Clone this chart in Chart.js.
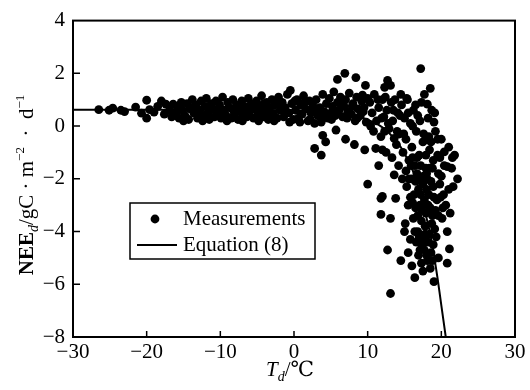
<!DOCTYPE html>
<html>
<head>
<meta charset="utf-8">
<script src="https://cdn.jsdelivr.net/npm/chart.js@4.4.0/dist/chart.umd.min.js"></script>
<style>
  html, body { margin: 0; padding: 0; background: #fff; }
</style>
</head>
<body>
<canvas id="neeChart" width="530" height="390"></canvas>
<script>
const xTicks = [-30, -20, -10, 0, 10, 20, 30];
const yTicks = [4, 2, 0, -2, -4, -6, -8];

const measTemp = [
  -26.5, -25.1, -24.6, -23.5, -23.0, -21.5, -20.7, -20.0, -20.0, -19.6,
  -19.0, -18.5, -18.0, -17.4, -17.6, -16.9, -16.4, -16.6, -16.2, -15.9,
  -15.6, -15.3, -15.1, -14.8, -14.5, -14.3, -14.1, -13.8, -13.6, -13.3,
  -13.1, -12.8, -12.6, -12.3, -12.1, -11.9, -11.7, -11.5, -11.2, -11.0,
  -10.8, -10.6, -10.3, -10.1, -9.9, -9.7, -9.5, -9.2, -9.0, -8.8,
  -8.5, -8.3, -8.1, -7.8, -7.6, -7.4, -7.1, -6.9, -6.7, -6.4,
  -6.2, -6.0, -5.8, -5.5, -5.3, -5.1, -4.9, -4.6, -4.4, -4.2,
  -4.0, -3.7, -3.5, -3.3, -3.0, -2.8, -2.6, -2.3, -2.1, -1.9,
  -1.6, -1.4, -1.2, -0.9, -0.7, -0.5, -0.3, -0.1, 0.2, 0.4,
  0.6, 0.9, 1.1, 1.3, 1.6, 1.9, 2.1, 2.3, 2.6, 2.8,
  3.0, 3.2, 3.5, 3.7, 3.9, 4.1, 4.4, 4.6, 4.8, 5.0,
  5.2, 5.4, 5.6, 5.9, 6.1, 6.3, 6.6, 6.8, 7.0, 7.3,
  7.5, 7.8, 8.0, 8.3, 8.5, 8.7, 9.0, 9.2, 9.5, 9.8,
  -15.8, -15.0, -14.0, -13.2, -12.4, -11.6, -10.7, -9.8, -9.1, -8.4,
  -7.7, -7.0, -6.3, -5.6, -4.8, -4.1, -3.4, -2.7, -2.0, -1.3,
  -0.6, 0.1, 0.8, 1.5, 2.2, 2.9, 3.6, 4.3, 5.1, 5.8,
  6.5, 7.2, 7.9, 8.6, 9.4,
  10.0, 2.8, 3.7, 3.9, 4.3, 5.7, 7.0, 8.2, 9.6, 11.1,
  10.4, 12.3, 13.6, 5.9, 6.9, 8.4, 9.7, 9.3, 12.7, 13.1,
  17.2, 18.5, 18.1, 19.0, 19.5, 20.4, 21.8, 14.5, 12.3, 15.3,
  10.3, 10.6, 10.9, 11.2, 11.5, 11.8, 12.0, 12.2, 12.6, 12.9,
  13.2, 13.4, 13.7, 13.9, 14.1, 14.3, 14.6, 14.8, 15.0, 15.2,
  15.4, 15.6, 15.8, 16.0, 16.2, 16.4, 16.6, 16.8, 17.0, 17.3,
  17.5, 17.7, 17.9, 18.2, 18.4, 18.7, 18.9, 19.2, 14.2, 14.7,
  10.8, 11.4, 11.9, 12.4, 12.8, 13.5, 14.0, 14.4, 14.9, 15.5,
  16.1, 16.5, 17.1, 17.6, 18.3, 19.1,
  15.2, 13.3, 12.5, 11.5, 12.0, 16.0, 16.3, 16.5, 16.7, 16.9,
  17.1, 17.3, 17.5, 17.7, 17.9, 18.1, 18.3, 18.5, 18.7, 18.9,
  19.1, 17.0, 17.4, 17.8, 18.2, 18.6, 16.6, 16.2, 15.8, 15.5,
  15.3, 15.9, 17.2, 18.0, 18.8, 19.4, 19.6, 19.8, 20.0, 20.3,
  20.6, 21.0, 21.4, 20.8, 22.2, 21.2, 20.1, 20.8, 21.1, 20.8,
  19.0, 16.4, 14.5, 12.7, 13.1, 11.8, 13.8, 11.8, 13.1, 15.1,
  15.0, 10.0, 13.6, 12.0, 16.9, 17.3, 17.7, 18.1, 18.5, 18.9,
  17.5, 16.0, 15.5, 15.8, 19.3, 19.6, 21.5, 21.0, 20.0, 19.8,
  20.4, 21.6,
  16.1, 16.5, 16.8, 17.0, 17.2, 17.4, 17.6, 17.8, 18.0, 18.2,
  18.4, 18.6, 18.8, 19.0, 19.2, 17.1, 17.6, 18.0, 18.4, 18.8,
  16.8, 16.4, 16.1, 15.6, 19.6, 19.9, 20.2, 16.7, 17.9, 18.6,
  19.5
];
const measNee = [
  0.62, 0.6, 0.68, 0.6, 0.55, 0.72, 0.49, 0.98, 0.3, 0.62,
  0.53, 0.75, 0.95, 0.83, 0.45, 0.6, 0.83, 0.35, 0.45, 0.75,
  0.3, 0.9, 0.6, 0.4, 0.85, 0.25, 0.65, 1.0, 0.5, 0.8,
  0.3, 0.6, 0.95, 0.4, 0.75, 1.05, 0.5, 0.25, 0.85, 0.65,
  0.35, 0.95, 0.55, 0.8, 0.3, 1.1, 0.6, 0.4, 0.9, 0.7,
  0.3, 1.0, 0.5, 0.8, 0.25, 0.65, 0.95, 0.45, 0.75, 0.35,
  1.05, 0.55, 0.85, 0.3, 0.65, 0.95, 0.45, 0.75, 1.15, 0.35,
  0.6, 0.9, 0.25, 0.7, 1.0, 0.45, 0.8, 0.3, 1.1, 0.6,
  0.9, 0.35, 0.7, 1.2, 0.5, 1.35, 0.85, 0.25, 0.6, 1.0,
  0.3, 0.8, 0.45, 1.15, 0.65, 0.2, 0.95, 0.5, 0.75, 0.1,
  1.0, 0.4, 0.7, 0.15, 1.2, 0.55, 0.85, 0.3, 1.05, 0.5,
  0.75, 1.3, 0.4, 0.9, 0.6, 1.1, 0.35, 0.75, 1.0, 0.55,
  1.25, 0.45, 0.85, 0.2, 1.1, 0.65, 0.4, 0.95, 0.7, 0.15,
  0.6, 0.2, 0.7, 0.55, 0.2, 0.75, 0.6, 0.5, 0.2, 0.65,
  0.55, 0.2, 0.6, 0.8, 0.2, 0.85, 0.5, 0.2, 0.85, 0.55,
  0.15, 0.95, 0.15, 0.95, 0.25, 0.6, 0.35, 0.45, 0.25, 0.55,
  0.8, 0.3, 0.75, 0.3, 0.55,
  1.05, -0.85, -1.1, -0.35, -0.6, -0.15, -0.5, -0.7, -0.9, -0.85,
  0.0, -0.2, -0.47, 1.77, 2.0, 1.84, 1.54, 1.17, 1.73, 1.54,
  2.18, 1.43, 0.83, 0.15, -0.5, -0.98, -1.1, 1.2, 1.47, 1.05,
  0.9, 0.5, 1.2, 0.2, 0.7, -0.4, 1.0, 0.35, 0.6, -0.1,
  0.9, 0.2, 1.0, -0.7, 0.5, -0.3, 0.8, -1.0, 0.3, -0.5,
  1.0, -1.3, 0.1, -0.8, 0.6, -1.5, -0.2, 0.4, -1.1, 0.9,
  -0.6, 1.2, -1.6, 0.3, -0.9, 0.6, -1.3, -0.2, -1.5, -2.0,
  -0.2, 1.0, 0.3, 1.1, 0.1, 0.6, -0.2, 0.4, -0.3, 0.5,
  0.0, 0.8, 0.2, -0.3, -0.4, 0.5,
  -1.7, -1.2, -1.0, -1.5, -0.9, -2.0, -2.6, -3.1, -1.8, -2.4,
  -3.0, -3.6, -2.2, -2.8, -3.3, -2.0, -2.6, -3.1, -3.7, -2.3,
  -3.9, -4.2, -4.5, -4.1, -4.4, -4.8, -4.4, -3.5, -2.7, -3.0,
  -2.3, -1.5, -1.5, -1.8, -1.6, -2.8, -3.4, -2.2, -1.9, -2.6,
  -3.0, -2.4, -1.6, -1.54, -2.0, -3.3, -3.5, -4.0, -4.66, -5.2,
  -5.9, -5.75, -5.1, -4.7, -6.35, -2.74, -2.74, -3.35, -3.5, -3.7,
  -4.0, -2.2, -1.85, -2.67, -4.9, -5.2, -4.7, -5.1, -5.4, -4.5,
  -5.5, -5.3, -4.8, -4.3, -4.2, -5.0, -1.2, -0.8, -0.5, -1.2,
  -1.5, -2.3,
  -1.2, -2.1, -3.4, -2.0, -2.6, -3.2, -1.9, -3.8, -2.4, -3.0,
  -1.6, -2.1, -3.4, -2.7, -3.2, -4.7, -4.3, -4.9, -4.1, -5.1,
  -4.0, -4.0, -2.9, -2.0, -1.8, -2.7, -3.1, -1.2, -1.1, -0.6,
  -1.1
];

// Equation (8) curve
const eqTemp = [-30, -20, -10, -5, 0, 3, 6, 9, 11, 12, 13, 14, 15, 16, 17, 18, 18.5, 19, 19.5, 20, 20.6];
const eqNee = [0.62, 0.62, 0.62, 0.61, 0.6, 0.57, 0.51, 0.35, 0.12, -0.05, -0.29, -0.6, -1.04, -1.6, -2.4, -3.5, -4.1, -4.9, -5.8, -6.8, -8.0];

const serif = '"Liberation Serif", "DejaVu Serif", serif';
const minus = v => String(v).replace('-', '\u2212');

function drawRich(ctx, parts, x, y) {
  let total = 0;
  parts.forEach(p => { ctx.font = p[1]; total += ctx.measureText(p[0]).width; });
  let cx = x - total / 2;
  parts.forEach(p => {
    ctx.font = p[1];
    ctx.fillText(p[0], cx, y + p[2]);
    cx += ctx.measureText(p[0]).width;
  });
}

const overlay = {
  id: 'overlay',
  afterDraw(chart) {
    const ctx = chart.ctx;
    const a = chart.chartArea;
    const xs = chart.scales.x, ys = chart.scales.y;
    ctx.save();
    ctx.strokeStyle = '#000';
    ctx.fillStyle = '#000';

    // frame and inward ticks
    ctx.lineWidth = 2;
    ctx.strokeRect(a.left, a.top, a.right - a.left, a.bottom - a.top);
    ctx.lineWidth = 1.5;
    ctx.beginPath();
    xTicks.slice(1, -1).forEach(v => {
      const px = xs.getPixelForValue(v);
      ctx.moveTo(px, a.bottom);
      ctx.lineTo(px, a.bottom - 6);
    });
    yTicks.slice(1, -1).forEach(v => {
      const py = ys.getPixelForValue(v);
      ctx.moveTo(a.left, py);
      ctx.lineTo(a.left + 7, py);
    });
    ctx.stroke();

    // legend
    ctx.fillStyle = '#fff';
    ctx.fillRect(130, 203, 185, 56);
    ctx.lineWidth = 1.5;
    ctx.strokeRect(130, 203, 185, 56);
    ctx.fillStyle = '#000';
    ctx.beginPath();
    ctx.arc(155, 219, 4.4, 0, Math.PI * 2);
    ctx.fill();
    ctx.lineWidth = 2;
    ctx.beginPath();
    ctx.moveTo(137, 245);
    ctx.lineTo(177, 245);
    ctx.stroke();
    ctx.font = '21px ' + serif;
    ctx.textBaseline = 'alphabetic';
    ctx.textAlign = 'left';
    ctx.fillText('Measurements', 183, 225);
    ctx.fillText('Equation (8)', 183, 251);

    // x title
    const big = '21px ' + serif;
    const sub = '14px ' + serif;
    drawRich(ctx, [
      ['T', 'italic ' + big, 0],
      ['d', 'italic ' + sub, 5],
      ['/\u2103', big, 0]
    ], 290, 376);

    // y title
    ctx.translate(33, 185);
    ctx.rotate(-Math.PI / 2);
    drawRich(ctx, [
      ['NEE', 'bold ' + big, 0],
      ['d', 'italic ' + sub, 5],
      ['/gC \u00b7 m', big, 0],
      ['\u22122', '13px ' + serif, -9],
      ['  \u00b7  d', big, 0],
      ['\u22121', '13px ' + serif, -9]
    ], 0, 0);
    ctx.restore();
  }
};

const ctx = document.getElementById('neeChart').getContext('2d');
const neeChart = new Chart(ctx, {
  type: 'scatter',
  data: {
    datasets: [{
      label: 'Measurements',
      data: measTemp.map((t, i) => ({ x: t, y: measNee[i] })),
      backgroundColor: '#000',
      borderWidth: 0,
      pointRadius: 4.4
    }, {
      label: 'Equation (8)',
      data: eqTemp.map((t, i) => ({ x: t, y: eqNee[i] })),
      showLine: true,
      borderColor: '#000',
      borderWidth: 2,
      pointRadius: 0,
      tension: 0.3
    }]
  },
  options: {
    responsive: false,
    animation: false,
    devicePixelRatio: 1,
    layout: {
      padding: { left: 0, right: 15, top: 18, bottom: 0 }
    },
    plugins: {
      legend: { display: false },
      tooltip: { enabled: false }
    },
    scales: {
      x: {
        type: 'linear',
        min: -30,
        max: 30,
        afterFit: s => { s.height = 53; },
        grid: { display: false, drawTicks: false },
        border: { display: false },
        ticks: {
          stepSize: 10,
          padding: 3,
          color: '#000',
          font: { family: serif, size: 21 },
          callback: minus
        }
      },
      y: {
        min: -8,
        max: 4,
        afterFit: s => { s.width = 73; },
        grid: { display: false, drawTicks: false },
        border: { display: false },
        ticks: {
          stepSize: 2,
          padding: 8,
          color: '#000',
          font: { family: serif, size: 21 },
          callback: minus
        }
      }
    }
  },
  plugins: [overlay]
});
</script>
</body>
</html>
